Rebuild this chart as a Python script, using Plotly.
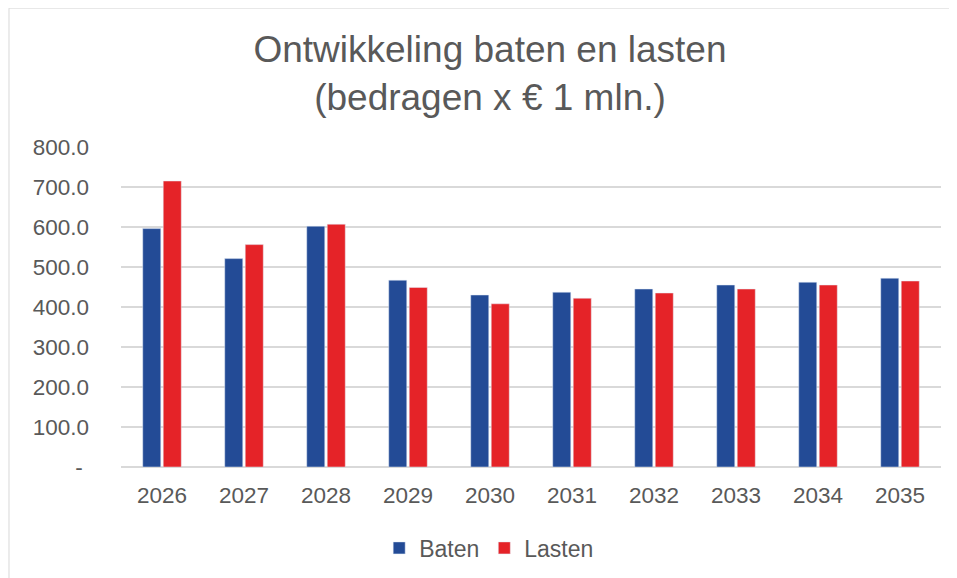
import plotly.graph_objects as go

years = ["2026", "2027", "2028", "2029", "2030", "2031", "2032", "2033", "2034", "2035"]
baten = [596, 521, 602, 467, 430, 437, 445, 455, 462, 472]
lasten = [715, 556, 607, 449, 408, 422, 435, 445, 455, 465]
tick_vals = [0, 100, 200, 300, 400, 500, 600, 700, 800]
tick_text = ["-\u00a0", "100.0", "200.0", "300.0", "400.0", "500.0", "600.0", "700.0", "800.0"]

W, H = 949, 570  # page body has an 8px default margin

fig = go.Figure()
fig.add_trace(go.Bar(name="Baten", x=years, y=baten, marker_color="#234B96"))
fig.add_trace(go.Bar(name="Lasten", x=years, y=lasten, marker_color="#E52328"))

border = dict(color="#D9D9D9", width=1)
fig.update_layout(
    width=W, height=H,
    paper_bgcolor="white", plot_bgcolor="white",
    font=dict(family="Liberation Sans, Arial, sans-serif", color="#595959", size=22),
    title=dict(text="Ontwikkeling baten en lasten<br>(bedragen x € 1 mln.)",
               x=482/W, xref="container", xanchor="center",
               y=1 - 54/H, yref="container", yanchor="middle",
               font=dict(size=37, color="#595959")),
    margin=dict(l=113, r=16, t=139, b=111, autoexpand=False),
    barmode="group", bargap=0.5, bargroupgap=0.12,
    legend=dict(orientation="h", x=0.449, xanchor="center", y=-0.253, yanchor="middle",
                font=dict(size=23, color="#595959"), traceorder="normal"),
    showlegend=True,
    shapes=[
        dict(type="line", xref="paper", yref="paper", x0=-0.1366, x1=1.02, y0=1.434, y1=1.434,
             line=border, layer="below"),
        dict(type="line", xref="paper", yref="paper", x0=-0.1366, x1=-0.1366, y0=-0.4, y1=1.434,
             line=border, layer="below"),
    ],
)
fig.update_yaxes(range=[0, 800], tickvals=tick_vals, ticktext=tick_text,
                 showgrid=True, gridcolor="#D9D9D9", gridwidth=1.5,
                 zeroline=True, zerolinecolor="#D9D9D9", zerolinewidth=1.5,
                 ticks="", ticklabelstandoff=31, tickfont=dict(size=22.5))
fig.update_xaxes(showgrid=False, ticks="", tickfont=dict(size=22.5), ticklabelstandoff=12)

fig.write_html("out.html")
